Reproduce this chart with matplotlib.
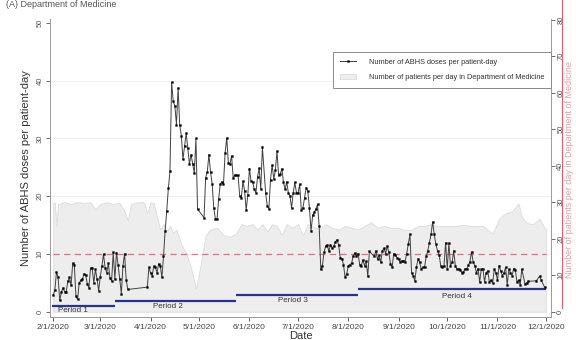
import numpy as np
import matplotlib
matplotlib.use("Agg")
import matplotlib.pyplot as plt
from matplotlib.lines import Line2D
from matplotlib.patches import Patch

# ---------------- data ----------------
# ABHS doses per patient-day, daily runs (start date, values)
seg_a_start = "2020-02-01"
seg_a_values = [2.9, 3.8, 6.9, 6.0, 2.0, 3.4, 4.2, 3.5, 3.5, 5.3, 6.0, 4.6, 8.4, 8.1, 2.7,
                2.2, 5.0, 5.5, 5.7, 6.6, 6.4, 4.9, 4.2, 7.6, 7.6, 5.0, 7.4, 5.7, 3.7, 6.1,
                7.9, 10.0, 7.6, 6.8, 8.4, 5.8, 5.4, 10.3, 5.7, 10.2, 8.2, 5.7, 3.2, 8.0,
                10.1, 5.5, 3.9]
seg_b_start = "2020-03-30"
seg_b_values = [4.3, 7.7, 6.8, 6.3, 7.9, 7.7, 6.8, 8.3, 8.0, 6.0, 9.6, 14.0, 17.5, 21.4, 24.3,
                39.7, 36.4, 35.6, 32.4, 38.7, 32.4, 30.5, 26.4, 28.7, 30.9, 28.3, 25.6, 27.2,
                25.6, 24.0, 30.0, 17.8]
seg_c_start = "2020-05-04"
seg_c_values = [16.3, 23.2, 24.2, 27.2, 24.2, 22.2, 18.0, 16.1, 16.0, 19.5,
                22.1, 22.5, 22.1, 27.5, 30.1, 25.8, 25.6, 27.0, 23.1, 23.7,
                23.6, 23.6, 20.1, 19.7, 22.6, 21.0, 17.6, 20.2, 24.8, 22.6,
                22.5, 21.2, 20.6, 23.3, 24.9, 21.2, 28.5]
seg_d_start = "2020-06-11"
seg_d_values = [20.6, 18.3, 17.8, 22.9, 25.4, 23.0, 24.5, 27.8, 23.6, 23.8,
                24.8, 22.4, 21.2, 22.5, 20.6, 20.0, 18.0, 20.6, 22.4, 20.6,
                20.6, 22.1, 17.6, 18.0, 19.7, 21.5, 20.9, 18.0, 14.0, 16.7,
                17.2, 17.8, 18.6, 14.9, 7.4, 8.0, 10.3, 11.4, 11.6, 10.5,
                11.6, 11.1, 11.4, 12.1, 12.5, 11.6, 9.4, 9.2, 8.2, 6.0,
                6.6, 8.0, 8.2, 8.4, 9.7, 10.2, 9.7, 10.1, 8.2, 8.0,
                9.0, 8.0, 8.8, 6.2, 10.5]
seg_e_start = "2020-08-17"
seg_e_values = [9.6, 10.6, 9.1, 9.8, 8.6, 10.6, 11.0, 10.1, 11.4, 10.3,
                8.3, 7.7, 10.1, 9.9, 9.4, 9.2, 8.6, 8.8, 8.9, 8.7,
                10.1, 11.7, 13.4, 6.8, 6.3, 5.4, 7.7, 9.2, 8.6, 7.4,
                7.7, 7.7, 9.6, 10.6, 12.0, 13.4, 15.6, 13.4, 11.7, 10.6,
                9.9, 8.0, 7.7, 8.0, 12.0, 7.4, 11.9, 8.0, 8.6, 10.6,
                8.0, 7.4, 7.5, 7.3, 6.8, 6.9, 7.5, 7.4, 8.1, 8.7,
                10.4, 8.6, 8.0, 6.8, 7.5, 5.2, 7.4, 7.5, 5.2, 6.8,
                7.1, 5.2, 5.5, 5.0, 7.4, 6.8, 5.5, 8.0, 7.1, 6.3,
                6.8, 7.7, 4.7, 7.4, 6.8, 6.3, 7.5, 7.3, 5.2, 5.5,
                4.7, 7.4]
end_dates = ["2020-11-18", "2020-11-19", "2020-11-20", "2020-11-25", "2020-11-27",
             "2020-11-28", "2020-11-30"]
end_values = [4.8, 5.0, 5.3, 5.4, 6.2, 5.5, 4.3]

# Number of patients per day (right axis)
pat_dates = ["2020-02-01", "2020-02-02", "2020-02-03", "2020-02-04", "2020-02-08", "2020-02-12",
             "2020-02-16", "2020-02-20", "2020-02-24", "2020-02-27", "2020-03-01", "2020-03-05",
             "2020-03-09", "2020-03-13", "2020-03-16", "2020-03-18", "2020-03-20", "2020-03-24",
             "2020-03-28", "2020-03-30", "2020-04-01", "2020-04-03", "2020-04-05", "2020-04-07",
             "2020-04-09", "2020-04-11", "2020-04-13", "2020-04-15", "2020-04-17", "2020-04-20",
             "2020-04-23", "2020-04-26", "2020-04-29", "2020-05-02", "2020-05-05", "2020-05-08",
             "2020-05-12", "2020-05-16", "2020-05-20", "2020-05-24", "2020-05-27", "2020-05-30",
             "2020-06-03", "2020-06-06", "2020-06-09", "2020-06-12", "2020-06-15", "2020-06-18",
             "2020-06-21", "2020-06-24", "2020-06-27", "2020-07-01", "2020-07-04", "2020-07-07",
             "2020-07-10", "2020-07-14", "2020-07-18", "2020-07-22", "2020-07-26", "2020-07-30",
             "2020-08-03", "2020-08-07", "2020-08-11", "2020-08-15", "2020-08-19", "2020-08-23",
             "2020-08-27", "2020-09-01", "2020-09-05", "2020-09-09", "2020-09-13", "2020-09-17",
             "2020-09-21", "2020-09-25", "2020-09-29", "2020-10-03", "2020-10-07", "2020-10-11",
             "2020-10-15", "2020-10-19", "2020-10-23", "2020-10-29", "2020-11-02", "2020-11-06",
             "2020-11-10", "2020-11-14", "2020-11-16", "2020-11-19", "2020-11-23", "2020-11-27",
             "2020-11-30", "2020-12-01"]
pat_values = [30.0, 29.8, 23.5, 29.5, 30.0, 29.5,
              30.0, 29.8, 30.0, 28.0, 29.5, 30.0,
              29.5, 29.8, 27.5, 25.0, 29.5, 30.0,
              30.0, 27.0, 30.0, 29.8, 26.0, 22.5,
              24.0, 22.0, 23.5, 21.5, 22.5, 18.5,
              16.0, 12.0, 6.3, 13.0, 21.0, 22.5,
              23.0, 21.0, 20.5, 21.5, 24.0, 23.5,
              24.0, 22.5, 24.0, 22.0, 24.0, 23.5,
              21.0, 24.0, 23.0, 24.0, 21.0, 24.0,
              23.5, 22.5, 24.0, 23.0, 22.5, 23.5,
              23.0, 22.5, 23.5, 24.5, 23.0, 23.5,
              23.0, 23.0, 22.3, 22.5, 23.5, 23.5,
              24.0, 23.5, 23.5, 23.5, 23.5, 23.8,
              23.5, 23.5, 23.5, 21.4, 25.5, 27.0,
              27.5, 29.6, 26.0, 24.3, 24.0, 25.5,
              23.0, 22.7]

# Intervention periods
period_labels = ["Period 1", "Period 2", "Period 3", "Period 4"]
period_starts = ["2020-01-31", "2020-03-10", "2020-05-24", "2020-08-07"]
period_ends = ["2020-03-10", "2020-05-24", "2020-08-07", "2020-12-01"]
period_levels = [1.0, 1.95, 2.9, 3.9]
period_label_dates = ["2020-02-13", "2020-04-12", "2020-06-28", "2020-10-07"]
period_label_levels = [0.2, 1.0, 1.95, 2.7]

threshold = 10
tick_dates = ["2020-02-01", "2020-03-01", "2020-04-01", "2020-05-01", "2020-06-01", "2020-07-01",
              "2020-08-01", "2020-09-01", "2020-10-01", "2020-11-01", "2020-12-01"]
tick_labels = ["2/1/2020", "3/1/2020", "4/1/2020", "5/1/2020", "6/1/2020", "7/1/2020",
               "8/1/2020", "9/1/2020", "10/1/2020", "11/1/2020", "12/1/2020"]

# ---------------- build series ----------------
def run(start, vals):
    return np.datetime64(start) + np.arange(len(vals)).astype("timedelta64[D]")

segments = [(seg_a_start, seg_a_values), (seg_b_start, seg_b_values), (seg_c_start, seg_c_values),
            (seg_d_start, seg_d_values), (seg_e_start, seg_e_values)]
dose_dates = np.concatenate([run(s, v) for s, v in segments] +
                            [np.array(end_dates, dtype="datetime64[D]")])
dose_values = np.concatenate([np.array(v, float) for _, v in segments] + [np.array(end_values)])

p_dates = np.array(pat_dates, dtype="datetime64[D]")
p_vals = np.array(pat_values)

# ---------------- figure ----------------
plt.rcParams["font.family"] = ["Liberation Sans", "DejaVu Sans"]
fig = plt.figure(figsize=(5.76, 3.4), dpi=100)
W, H = 576, 340
left, right, top, bottom = 50, 551, 19, 317
ax = fig.add_axes([left / W, 1 - bottom / H, (right - left) / W, (bottom - top) / H])
axr = ax.twinx()
ax.set_zorder(axr.get_zorder() + 1)
ax.patch.set_visible(False)

# patients area (right axis)
axr.fill_between(p_dates, 0, p_vals, facecolor="#ededed", edgecolor="#dcdcdc", linewidth=0.6)
axr.set_ylim(-1.45, 80.2)
axr.set_yticks(range(0, 81, 10))
axr.tick_params(axis="y", labelsize=5.5, labelrotation=90, colors="#555555", length=3, width=0.6, pad=1.5)
for lab in axr.get_yticklabels():
    lab.set_va("center")

# left axis content
ax.set_ylim(-0.86, 50.64)
ax.set_yticks(range(0, 51, 10))
for g in [10, 20, 30, 40]:
    ax.axhline(g, color="#eeeeee", lw=0.6, zorder=0)
ax.plot([np.datetime64("2020-02-01"), np.datetime64("2020-12-01")], [threshold, threshold],
        color="#e07080", lw=0.9, dashes=(5, 3.5), zorder=2)
ax.plot(dose_dates, dose_values, color="#404040", lw=0.7, marker="s", ms=1.3,
        mfc="black", mec="black", mew=0.3, zorder=4)

for lab, s, e, lev, ld, ll in zip(period_labels, period_starts, period_ends, period_levels,
                                   period_label_dates, period_label_levels):
    ax.plot([np.datetime64(s), np.datetime64(e)], [lev, lev], color="#27348b", lw=1.6,
            solid_capstyle="butt", zorder=3)
    ax.text(np.datetime64(ld), ll, lab, fontsize=5.8, color="#333333", ha="center", va="center",
            zorder=5)

ax.set_xlim(np.datetime64("2020-01-30"), np.datetime64("2020-12-04"))
ax.set_xticks(np.array(tick_dates, dtype="datetime64[D]"))
ax.set_xticklabels(tick_labels)
ax.tick_params(axis="x", labelsize=6, colors="#444444", length=3, width=0.6, pad=2)
ax.tick_params(axis="y", labelsize=5.5, labelrotation=90, colors="#555555", length=3, width=0.6, pad=1.5)
for lab in ax.get_yticklabels():
    lab.set_va("center")

for a in (ax, axr):
    a.spines["top"].set_visible(False)
    for s in ("left", "right", "bottom"):
        a.spines[s].set_color("#9a9a9a")
        a.spines[s].set_linewidth(0.7)
ax.spines["right"].set_visible(False)
axr.spines["left"].set_visible(False)

ax.set_ylabel("Number of ABHS doses per patient-day", fontsize=8, color="#333333", labelpad=4)
ax.set_xlabel("Date", fontsize=8, color="#333333", labelpad=0)

handles = [Line2D([], [], color="#404040", lw=0.7, marker="s", ms=1.3, mfc="black", mec="black", mew=0.3),
           Patch(facecolor="#ededed", edgecolor="#dcdcdc", linewidth=0.6)]
leg = ax.legend(handles, ["Number of ABHS doses per patient-day",
                          "Number of patients per day in Department of Medicine"],
                loc="upper left", bbox_to_anchor=((333 - left) / (right - left), (bottom - 52) / (bottom - top)),
                fontsize=5.3, frameon=True, fancybox=False, edgecolor="#8a8a8a", framealpha=1,
                handlelength=2.2, handletextpad=1.8, borderpad=0.9, labelspacing=1.1, borderaxespad=0)
leg.get_frame().set_linewidth(0.7)
for t in leg.get_texts():
    t.set_color("#333333")

# panel title, right-axis title, red side rule
fig.text(0.01, 0.999, "(A) Department of Medicine", fontsize=6.5, color="#555555", ha="left", va="top")
fig.text(570 / W, 0.5, "Number of patients per day in Department of Medicine", fontsize=6.5,
         color="#d9a0a8", rotation=90, ha="center", va="center")
fig.add_artist(Line2D([562 / W, 562 / W], [1.0, 1 - 308 / H], color="#e05c70", lw=0.8))

fig.savefig("out.png", dpi=100)
